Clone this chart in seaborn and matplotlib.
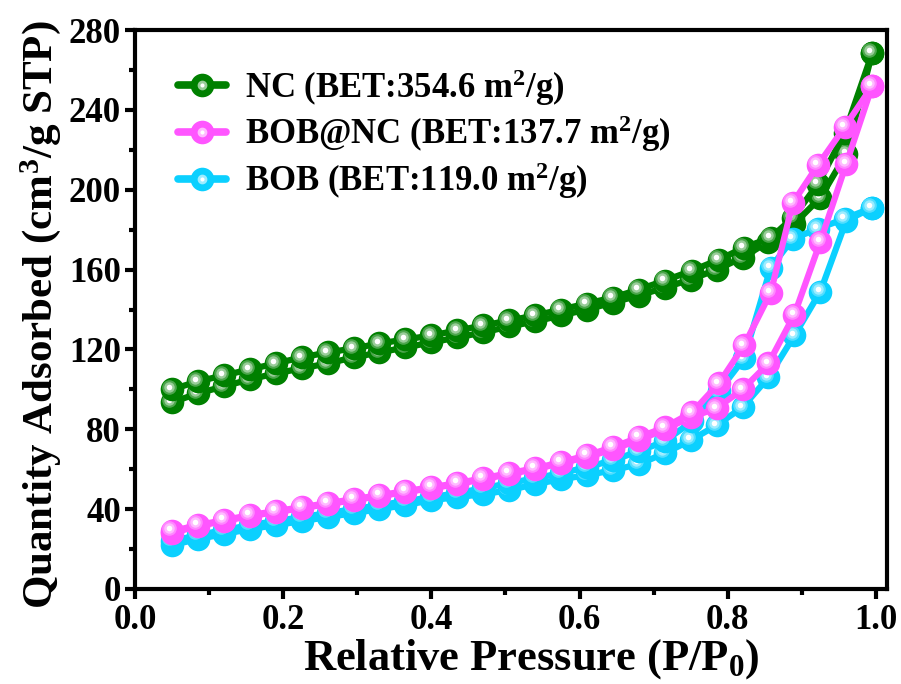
import numpy as np
import pandas as pd
import matplotlib
matplotlib.use("Agg")
import matplotlib.pyplot as plt
import seaborn as sns
from matplotlib.lines import Line2D
from matplotlib.legend_handler import HandlerTuple
from matplotlib.transforms import offset_copy
from matplotlib.colors import to_rgb

# ---------------- data ----------------
p_ads = [0.05, 0.085, 0.12, 0.155, 0.19, 0.225, 0.26, 0.295, 0.33, 0.365, 0.40, 0.435,
         0.47, 0.505, 0.54, 0.575, 0.61, 0.645, 0.68, 0.715, 0.75, 0.785, 0.82, 0.855,
         0.89, 0.925, 0.96, 0.995]
p_des = [0.995, 0.958, 0.922, 0.888, 0.858, 0.822, 0.788, 0.752, 0.715, 0.68, 0.645, 0.61,
         0.575, 0.54, 0.505, 0.47, 0.435, 0.40, 0.365, 0.33, 0.295, 0.26, 0.225, 0.19,
         0.155, 0.12, 0.085, 0.05]

nc_ads = [93.5, 98, 101.5, 105, 108, 110.5, 113, 116, 118.5, 121, 123.5, 126, 128.5, 131.5,
          134, 137, 140, 143.5, 147, 151, 155, 160, 166, 174, 183, 196, 218, 268.5]
nc_des = [268.5, 228.5, 203, 186, 176, 171, 165, 159.5, 154.5, 150, 146, 143, 140, 137,
          134.5, 132, 129.5, 127, 125, 123, 120.5, 118.5, 116, 113, 110, 107, 104, 100]

bobnc_ads = [28, 31.5, 34, 36.5, 38.5, 40.5, 42.5, 44.5, 46.5, 48.5, 50.5, 52.5, 55, 57.5,
             60, 63, 66, 70, 74.5, 80, 86, 90.5, 100, 113, 137.5, 174, 213, 252]
bobnc_des = [252, 231.5, 212.5, 193.5, 148.5, 122, 103, 88.5, 81, 76, 71, 67, 63.5, 60.5,
             58, 55.5, 53, 51, 49, 47, 45, 43, 41, 39, 37, 34.5, 32, 29]

bob_ads = [22, 25, 27.5, 30, 32, 34, 36, 38, 40, 42, 44.5, 46, 47.5, 49.5, 52.5, 55, 57,
           59.5, 62.5, 68, 74.5, 82, 91, 106, 127, 149, 184.5, 191]
bob_des = [191, 185.5, 180.5, 175.5, 161, 115.5, 99, 84, 74, 69, 64.5, 61, 58, 55.5, 53,
           50.5, 48, 46, 44, 42, 40, 38, 36, 34, 32, 29.5, 27, 24]

labels = ["NC (BET:354.6 m$^{2}$/g)", "BOB@NC (BET:137.7 m$^{2}$/g)", "BOB (BET:119.0 m$^{2}$/g)"]
colors = {"NC": "#008000", "BOB@NC": "#FF55FF", "BOB": "#0BD0FF"}

# ---------------- style ----------------
sns.set_theme(style="ticks")
plt.rcParams["font.family"] = ["Liberation Serif", "DejaVu Serif"]
plt.rcParams["font.weight"] = "bold"
plt.rcParams["axes.labelweight"] = "bold"
plt.rcParams["text.color"] = "black"
plt.rcParams["axes.labelcolor"] = "black"
plt.rcParams["mathtext.fontset"] = "custom"
plt.rcParams["mathtext.rm"] = "Liberation Serif:bold"
plt.rcParams["mathtext.it"] = "Liberation Serif:bold"
plt.rcParams["mathtext.bf"] = "Liberation Serif:bold"

fig = plt.figure(figsize=(9.01, 6.84), dpi=100)
ax = fig.add_axes([0.1498, 0.1389, 0.9845 - 0.1498, 0.9561 - 0.1389])

MS = 17
LW = 4.5


def mix(c, f):
    r = np.array(to_rgb(c))
    return tuple(r + (1 - r) * f)


hl_tr = offset_copy(ax.transData, fig=fig, x=-2.0, y=2.0, units="points")


def draw_branch(x, y, c, z):
    df = pd.DataFrame({"x": x, "y": y})
    sns.lineplot(data=df, x="x", y="y", sort=False, estimator=None, ax=ax,
                 color=c, lw=LW, marker="o", markersize=MS, markeredgewidth=0,
                 markerfacecolor=c, zorder=z)
    for s, f in [(10.5, 0.3), (7.5, 0.6), (4.0, 1.0)]:
        ax.plot(x, y, ls="none", marker="o", ms=s, mfc=mix(c, f), mec="none",
                transform=hl_tr, zorder=z + 0.1)


order = [("NC", nc_ads, nc_des, 2),
         ("BOB", bob_ads, bob_des, 3),
         ("BOB@NC", bobnc_ads, bobnc_des, 4)]
for name, ya, yd, z in order:
    c = colors[name]
    draw_branch(p_ads, ya, c, z)
    draw_branch(p_des, yd, c, z + 0.3)

ax.set_xlim(0, 1.015)
ax.set_ylim(0, 280)
ax.set_xticks([0.0, 0.2, 0.4, 0.6, 0.8, 1.0])
ax.set_xticks([0.1, 0.3, 0.5, 0.7, 0.9], minor=True)
ax.set_yticks([0, 40, 80, 120, 160, 200, 240, 280])
ax.set_yticks([20, 60, 100, 140, 180, 220, 260], minor=True)
ax.xaxis.set_major_formatter(matplotlib.ticker.FormatStrFormatter("%.1f"))

for sp in ax.spines.values():
    sp.set_linewidth(3.0)
    sp.set_color("black")
ax.tick_params(which="major", direction="out", length=7, width=3, labelsize=25,
               colors="black", pad=3)
ax.tick_params(axis="x", which="major", pad=3.5)
ax.tick_params(which="minor", direction="out", length=4, width=3, colors="black")
for lab in ax.get_xticklabels() + ax.get_yticklabels():
    lab.set_fontweight("bold")

ax.set_xlabel("Relative Pressure (P/P$_{0}$)", fontsize=32, fontweight="bold")
ax.set_ylabel("Quantity Adsorbed (cm$^{3}$/g STP)", fontsize=31, fontweight="bold")
ax.xaxis.set_label_coords(0.527, -0.126, transform=ax.transAxes)
ax.yaxis.set_label_coords(-0.125, 0.49, transform=ax.transAxes)
ax.xaxis.label.set_va("center")
ax.yaxis.label.set_va("center")

handles = []
for name in ["NC", "BOB@NC", "BOB"]:
    c = colors[name]
    base = Line2D([], [], color=c, lw=LW + 1, marker="o", ms=MS, mew=0, mfc=c)
    hl = Line2D([], [], ls="none", marker="o", ms=5, mfc="white", mec=mix(c, 0.6), mew=2)
    handles.append((base, hl))
leg = ax.legend(handles, labels, handler_map={tuple: HandlerTuple(ndivide=1)},
                loc="upper left", bbox_to_anchor=(0.015, 0.99), frameon=False,
                prop={"family": "Liberation Serif", "weight": "bold", "size": 25},
                handlelength=1.4, handletextpad=0.55, labelspacing=0.17)

fig.savefig("out.png", dpi=100)
